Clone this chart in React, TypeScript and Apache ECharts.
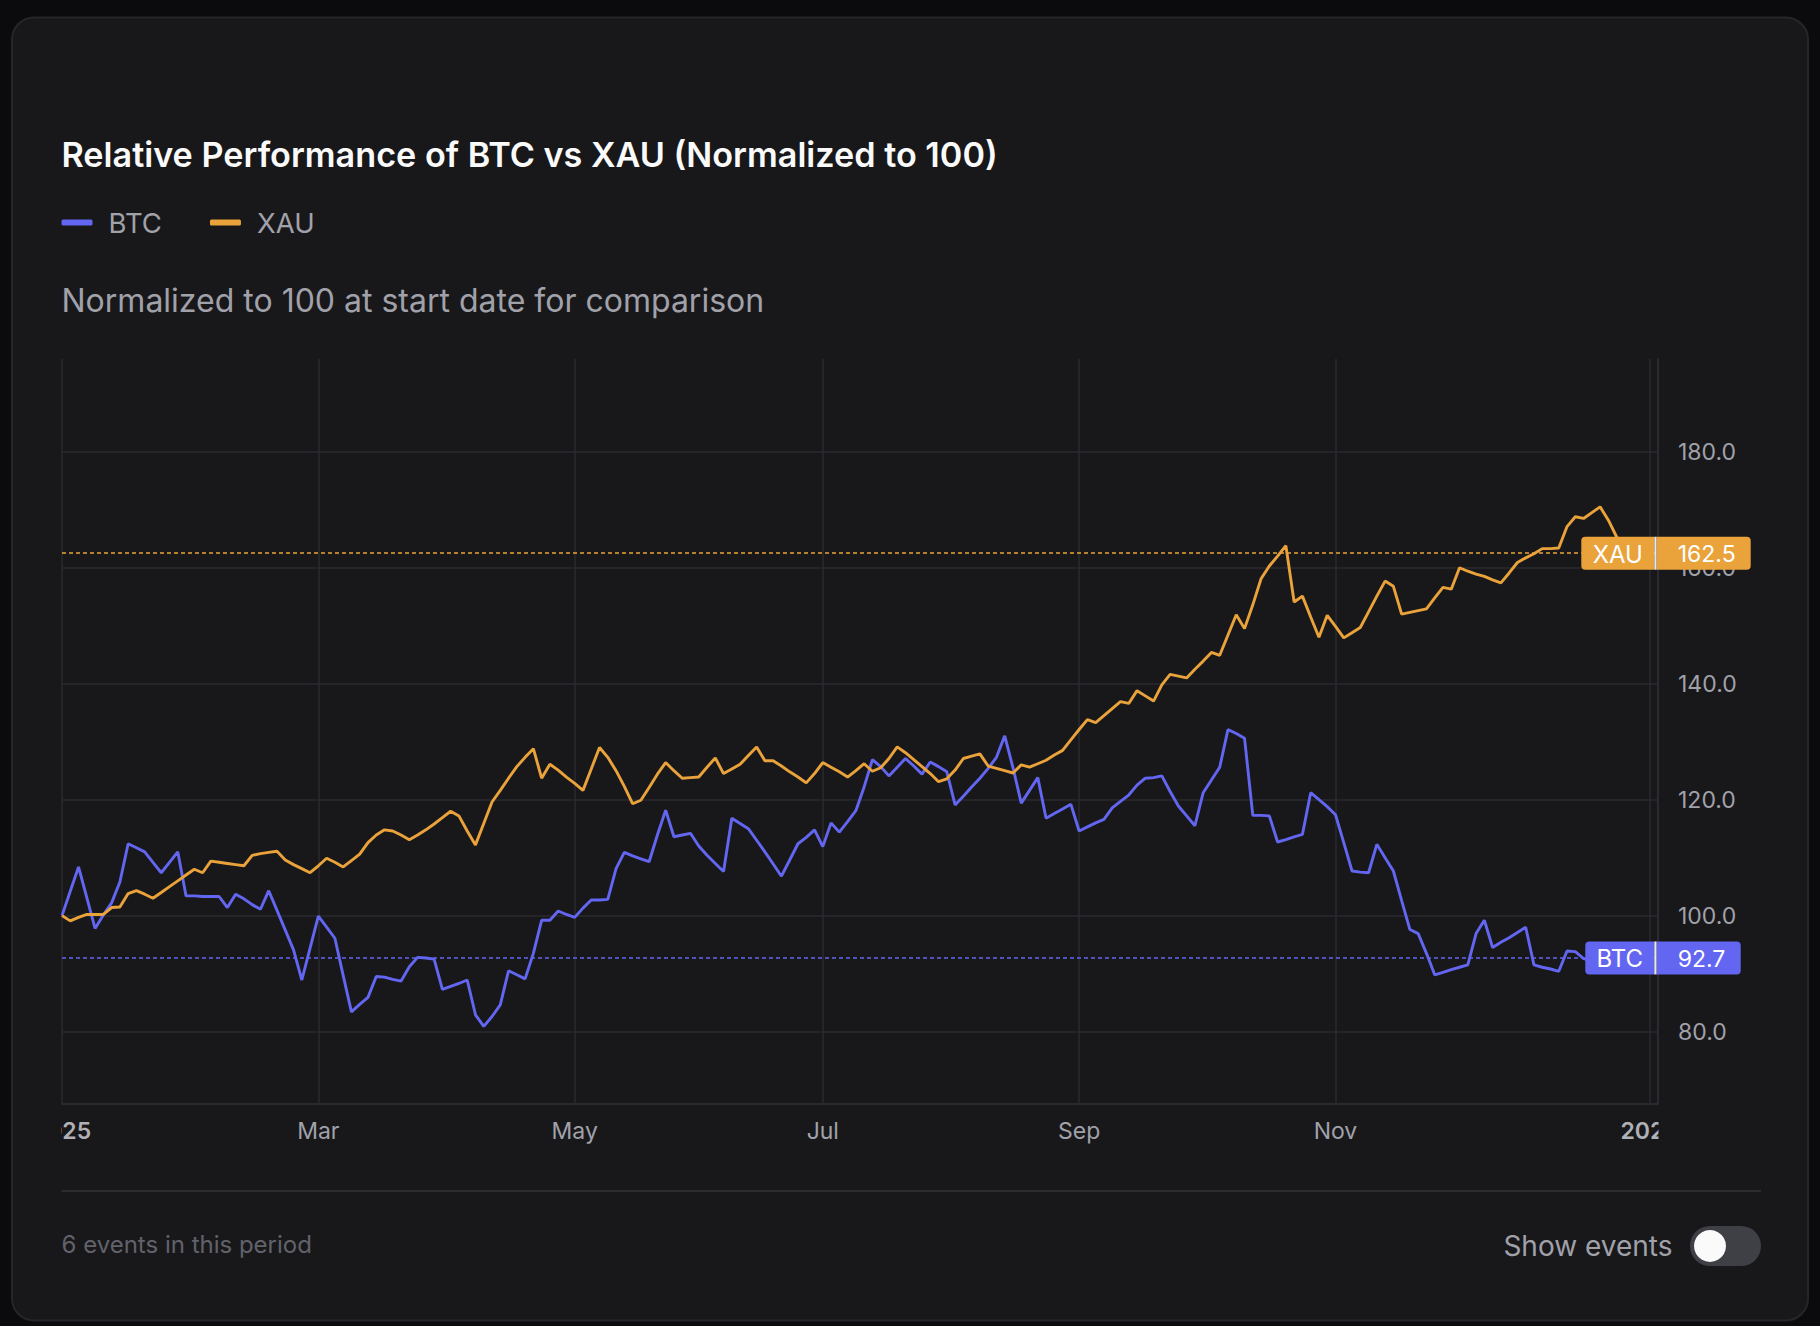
import React, { useEffect, useRef } from "react";
import * as echarts from "echarts";

// Bar dates (one category per bar on the time scale)
const monthDays: [string, number[]][] = [
  ["2025-01", [1, 3, 5, 7, 9, 11, 13, 15, 17, 19, 21, 23, 25, 27, 29, 31]],
  ["2025-02", [1, 3, 5, 7, 9, 11, 13, 15, 17, 19, 21, 23, 25, 27, 28]],
  ["2025-03", [1, 3, 5, 7, 9, 11, 13, 15, 17, 19, 21, 23, 25, 27, 29, 31]],
  ["2025-04", [1, 3, 5, 7, 9, 11, 13, 15, 17, 19, 21, 23, 25, 27, 29]],
  ["2025-05", [1, 3, 5, 7, 9, 11, 13, 15, 17, 19, 21, 23, 25, 27, 29, 31]],
  ["2025-06", [2, 4, 6, 8, 10, 12, 14, 16, 18, 20, 22, 24, 26, 28]],
  ["2025-07", [1, 3, 5, 7, 9, 11, 13, 15, 17, 19, 21, 23, 25, 27, 29, 31]],
  ["2025-08", [2, 4, 6, 8, 10, 12, 14, 16, 18, 20, 22, 24, 26, 28, 30]],
  ["2025-09", [1, 3, 5, 7, 9, 11, 13, 15, 17, 19, 21, 23, 25, 27, 29]],
  ["2025-10", [1, 3, 5, 7, 9, 11, 13, 15, 17, 19, 21, 23, 25, 27, 29, 31]],
  ["2025-11", [1, 2, 4, 5, 7, 8, 10, 11, 13, 14, 16, 17, 19, 20, 22, 23, 25, 26, 28]],
  ["2025-12", [1, 2, 4, 5, 7, 8, 10, 11, 13, 14, 16, 17, 19, 20, 22, 23, 25, 27, 29]],
  ["2026-01", [1, 2]],
];

const tickLabels: [string, string][] = [
  ["2025-01-01", "2025"],
  ["2025-03-01", "Mar"],
  ["2025-05-01", "May"],
  ["2025-07-01", "Jul"],
  ["2025-09-01", "Sep"],
  ["2025-11-01", "Nov"],
  ["2026-01-01", "2026"],
];

const yTicks = [80, 100, 120, 140, 160, 180];

const btc = [
  100.0, 104.2, 108.4, 103.1, 97.8, 100.1, 102.2, 105.8, 112.4, 111.7,
  111.0, 109.2, 107.4, 109.2, 111.0, 103.4, 103.4, 103.3, 103.3, 103.3,
  101.4, 103.7, 102.9, 101.9, 101.1, 104.3, 100.9, 97.5, 94.1, 88.9,
  94.4, 99.9, 98.0, 96.1, 89.7, 83.4, 84.7, 85.9, 89.5, 89.4,
  89.0, 88.7, 91.2, 92.8, 92.7, 92.5, 87.3, 87.8, 88.3, 88.9,
  82.9, 80.9, 82.6, 84.6, 90.5, 89.8, 89.1, 93.5, 99.2, 99.2,
  100.8, 100.2, 99.7, 101.3, 102.7, 102.7, 102.8, 108.1, 110.9, 110.3,
  109.8, 109.3, 113.9, 118.2, 113.6, 113.9, 114.2, 112.0, 110.4, 109.0,
  107.6, 116.8, 115.9, 115.0, 113.0, 111.0, 108.9, 106.8, 109.6, 112.4,
  113.5, 114.8, 111.9, 116.0, 114.4, 116.2, 118.1, 122.2, 126.9, 125.7,
  124.1, 125.6, 127.1, 125.8, 124.4, 126.5, 125.7, 124.8, 119.1, 120.6,
  122.2, 123.7, 125.4, 127.3, 131.0, 125.5, 119.4, 121.6, 123.8, 116.8,
  117.6, 118.4, 119.2, 114.6, 115.3, 116.0, 116.6, 118.6, 119.7, 120.8,
  122.5, 123.7, 123.8, 124.1, 121.4, 118.9, 117.2, 115.5, 121.2, 123.4,
  125.6, 132.1, 131.4, 130.6, 117.3, 117.3, 117.2, 112.7, 113.1, 113.6,
  114.0, 121.2, 120.0, 118.8, 117.4, 112.6, 107.7, 107.5, 107.4, 112.3,
  110.0, 107.7, 102.6, 97.6, 96.9, 93.5, 89.8, 90.2, 90.7, 91.1,
  91.5, 96.9, 99.2, 94.5, 95.4, 96.2, 97.1, 98.0, 91.5, 91.1,
  90.8, 90.4, 93.9, 93.8, 92.6, 92.2, 92.5, 93.0, 92.8, 92.4,
  92.6, 92.9, 92.7,
];

const xau = [
  100.0, 99.1, 99.7, 100.2, 100.2, 100.2, 101.4, 101.5, 103.8, 104.3,
  103.7, 103.0, 104.0, 105.0, 106.0, 107.0, 108.0, 107.4, 109.4, 109.2,
  109.0, 108.8, 108.6, 110.4, 110.7, 110.9, 111.1, 109.6, 108.8, 108.1,
  107.4, 108.6, 109.9, 109.2, 108.4, 109.5, 110.6, 112.6, 113.9, 114.8,
  114.6, 113.9, 113.1, 113.9, 114.8, 115.8, 116.9, 118.0, 117.2, 114.6,
  112.2, 115.9, 119.6, 121.6, 123.7, 125.7, 127.3, 128.8, 123.7, 126.1,
  125.1, 123.9, 122.8, 121.6, 125.3, 129.0, 127.3, 125.0, 122.3, 119.3,
  119.9, 122.1, 124.4, 126.4, 125.0, 123.7, 123.8, 123.9, 125.6, 127.2,
  124.5, 125.3, 126.1, 127.6, 129.1, 126.7, 126.7, 125.8, 124.8, 123.9,
  122.9, 124.5, 126.4, 125.6, 124.8, 123.9, 125.0, 126.2, 124.9, 125.5,
  127.1, 129.1, 128.1, 126.9, 125.7, 124.5, 123.1, 123.6, 125.1, 127.1,
  127.5, 127.9, 125.8, 125.4, 125.0, 124.6, 126.0, 125.6, 126.2, 126.8,
  127.7, 128.5, 130.3, 132.1, 133.8, 133.3, 134.5, 135.7, 136.9, 136.6,
  138.8, 137.9, 137.0, 139.8, 141.6, 141.3, 141.0, 142.5, 143.9, 145.4,
  144.9, 148.4, 151.9, 149.5, 153.6, 158.1, 160.3, 162.0, 163.8, 154.1,
  155.1, 151.5, 148.0, 151.8, 149.9, 147.9, 148.8, 149.7, 152.4, 155.1,
  157.7, 156.8, 152.0, 152.3, 152.6, 152.9, 154.8, 156.6, 156.3, 160.0,
  159.4, 158.9, 158.5, 157.9, 157.4, 159.1, 160.9, 161.7, 162.4, 163.3,
  163.3, 163.4, 167.1, 168.8, 168.5, 169.5, 170.5, 168.2, 165.3, 164.0,
  163.4, 162.9, 162.5,
];

const BTC_COLOR = "#6366f1";
const XAU_COLOR = "#eaa23b";
const FONT = "Inter, 'Noto Sans', sans-serif";
const CARD = "#18181b";
const GRID = "#2a2a2f";

export default function App() {
  const ref = useRef<HTMLDivElement>(null);

  useEffect(() => {
    document.body.style.margin = "0";
    const chart = echarts.init(ref.current!, undefined, { renderer: "svg" });

    const dates = monthDays.flatMap(([m, days]) =>
      days.map((d) => `${m}-${String(d).padStart(2, "0")}`)
    );
    const labelMap = new Map(tickLabels);
    const tickIdx = new Set(
      dates.map((d, i) => (labelMap.has(d) ? i : -1)).filter((i) => i >= 0)
    );

    const L = 62;
    const R = 1658;
    const TOP = 359;
    const BOTTOM = 1103.5;

    const btcLast = btc[btc.length - 1];
    const xauLast = xau[xau.length - 1];

    const priceLine = (color: string, v: number) => ({
      silent: true,
      symbol: "none",
      label: { show: false },
      lineStyle: { color, width: 1.5, type: [4, 3] as any, opacity: 1 },
      data: [{ yAxis: v }],
      z: 3,
    });

    chart.setOption({
      animation: false,
      backgroundColor: "#0b0b0d",
      textStyle: { fontFamily: FONT },
      legend: {
        left: 61.5,
        top: 208.5,
        padding: 0,
        icon: "roundRect",
        itemWidth: 31,
        itemHeight: 6,
        itemGap: 48,
        selectedMode: false,
        textStyle: { color: "#a1a1aa", fontSize: 27.5, fontFamily: FONT, padding: [0, 0, 0, 11] },
        data: ["BTC", "XAU"],
      },
      grid: { left: L, top: TOP, width: R - L, height: BOTTOM - TOP },
      xAxis: {
        type: "category",
        boundaryGap: false,
        data: dates,
        axisLine: { show: true, lineStyle: { color: GRID, width: 2 } },
        axisTick: { show: false },
        axisLabel: {
          interval: (i: number) => tickIdx.has(i),
          margin: 16,
          color: "#a1a1aa",
          fontSize: 23,
          fontFamily: FONT,
          formatter: (v: string) => {
            const t = labelMap.get(v) || "";
            return /^\d{4}$/.test(t) ? `{y|${t}}` : t;
          },
          rich: { y: { fontWeight: 600, color: "#b0b0b7", fontSize: 23, fontFamily: FONT } },
        },
        splitLine: {
          show: true,
          interval: (i: number) => tickIdx.has(i),
          lineStyle: { color: GRID, width: 1.5 },
        },
      },
      yAxis: {
        type: "value",
        position: "right",
        min: 67.6,
        max: 196,
        splitNumber: 6,
        axisLine: { show: true, lineStyle: { color: GRID, width: 2 } },
        axisTick: { show: false },
        axisLabel: {
          margin: 20,
          color: "#a1a1aa",
          fontSize: 23,
          fontFamily: FONT,
          showMinLabel: false,
          showMaxLabel: false,
          formatter: (v: number) => (yTicks.includes(Math.round(v)) ? v.toFixed(1) : ""),
        },
        splitLine: {
          show: true,
          showMinLine: false,
          showMaxLine: false,
          lineStyle: { color: GRID, width: 1.5 },
        },
      },
      series: [
        {
          name: "BTC",
          type: "line",
          data: btc,
          showSymbol: false,
          symbol: "none",
          color: BTC_COLOR,
          lineStyle: { width: 2.9, color: BTC_COLOR },
          markLine: priceLine(BTC_COLOR, btcLast),
          z: 4,
        },
        {
          name: "XAU",
          type: "line",
          data: xau,
          showSymbol: false,
          symbol: "none",
          color: XAU_COLOR,
          lineStyle: { width: 2.9, color: XAU_COLOR },
          markLine: priceLine(XAU_COLOR, xauLast),
          z: 5,
        },
      ],
    });

    const yX = chart.convertToPixel({ yAxisIndex: 0 }, xauLast) as number;
    const yB = chart.convertToPixel({ yAxisIndex: 0 }, btcLast) as number;

    const txt = (x: number, y: number, text: string, font: string, fill: string, align = "left", z = 10) => ({
      type: "text",
      x,
      y,
      z,
      style: { text, font, fill, textAlign: align, align, textVerticalAlign: "middle", verticalAlign: "middle" },
    });

    const priceBox = (y: number, color: string, name: string, val: number, leftW: number, rightW: number) => ({
      type: "group",
      z: 50,
      children: [
        { type: "rect", z: 50, shape: { x: R - 3.7 - leftW, y: y - 16.5, width: leftW, height: 33, r: [4, 0, 0, 4] }, style: { fill: color } },
        { type: "rect", z: 50, shape: { x: R - 3.7, y: y - 16.5, width: 2.4, height: 33 }, style: { fill: "#e8e8ea" } },
        { type: "rect", z: 50, shape: { x: R - 1.3, y: y - 16.5, width: rightW, height: 33, r: [0, 4, 4, 0] }, style: { fill: color } },
        txt(R - 3.7 - leftW / 2, y + 1, name, `400 24px ${FONT}`, "#ffffff", "center", 51),
        txt(R + 19.7, y + 1, val.toFixed(1), `400 23px ${FONT}`, "#ffffff", "left", 51),
      ],
    });

    chart.setOption({
      graphic: {
        elements: [
          {
            type: "rect",
            z: -100,
            silent: true,
            shape: { x: 12, y: 17.5, width: 1796, height: 1303, r: 22 },
            style: { fill: CARD, stroke: "#26262a", lineWidth: 2 },
          },
          txt(61.5, 154.5, "Relative Performance of BTC vs XAU (Normalized to 100)", `600 34.2px ${FONT}`, "#fafafa"),
          txt(61.5, 300.5, "Normalized to 100 at start date for comparison", `400 32px ${FONT}`, "#a1a1aa"),
          // clipping of time labels at pane edges
          { type: "rect", z: 100, silent: true, shape: { x: 15, y: 1106, width: L - 16, height: 50 }, style: { fill: CARD } },
          { type: "rect", z: 100, silent: true, shape: { x: R + 0.5, y: 1106, width: 60, height: 50 }, style: { fill: CARD } },
          // footer
          { type: "line", z: 10, shape: { x1: 61.5, y1: 1191, x2: 1761, y2: 1191 }, style: { stroke: "#2a2a2f", lineWidth: 2 } },
          txt(61.5, 1244, "6 events in this period", `400 24px ${FONT}`, "#62626a"),
          txt(1672.5, 1245.5, "Show events", `400 28px ${FONT}`, "#a1a1aa", "right"),
          { type: "rect", z: 10, shape: { x: 1690, y: 1226, width: 71, height: 40, r: 20 }, style: { fill: "#3f3f46" } },
          { type: "circle", z: 11, shape: { cx: 1710, cy: 1246, r: 16 }, style: { fill: "#fafafa" } },
          priceBox(yX, XAU_COLOR, "XAU", xauLast, 73, 94),
          priceBox(yB, BTC_COLOR, "BTC", btcLast, 69, 84),
        ],
      },
    });

    return () => chart.dispose();
  }, []);

  return (
    <div style={{ position: "fixed", left: 0, top: 0, width: 1820, height: 1326, background: "#0b0b0d" }}>
      <div ref={ref} style={{ width: 1820, height: 1326 }} />
    </div>
  );
}
